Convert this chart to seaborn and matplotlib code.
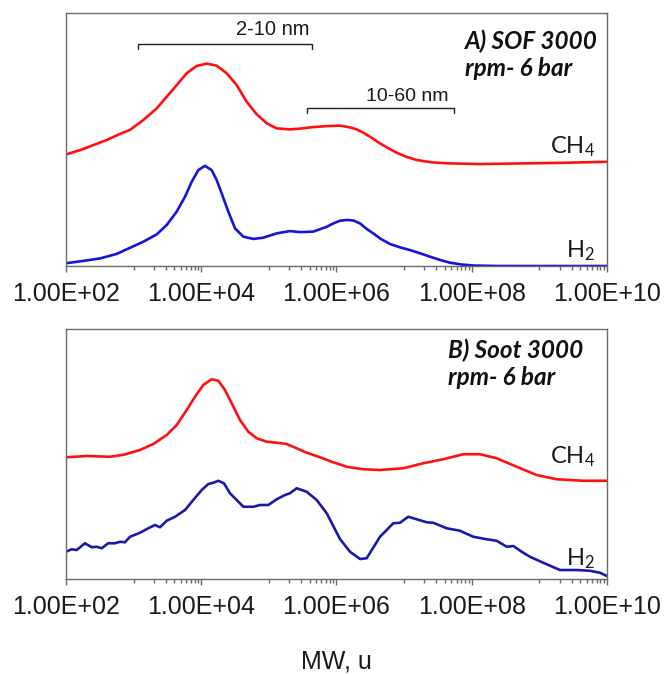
import numpy as np
import pandas as pd
import matplotlib
matplotlib.use("Agg")
import matplotlib.pyplot as plt
import seaborn as sns
from matplotlib.ticker import FixedLocator, NullFormatter, FixedFormatter

# ---------------- data (x given as log10(MW), y as relative intensity) ----------------
a_ch4_logmw = [2.0, 2.207, 2.404, 2.601, 2.798, 2.946, 3.143, 3.341, 3.489, 3.637, 3.785, 3.933,
               4.081, 4.228, 4.376, 4.524, 4.672, 4.82, 4.968, 5.116, 5.312, 5.46, 5.65, 5.855,
               6.052, 6.2, 6.3, 6.396, 6.52, 6.643, 6.77, 6.89, 7.03, 7.186, 7.4, 7.63, 8.122,
               8.861, 9.354, 10.0]
a_ch4_int = [0.441, 0.458, 0.478, 0.498, 0.522, 0.538, 0.577, 0.623, 0.669, 0.715, 0.762, 0.791,
             0.8, 0.792, 0.762, 0.715, 0.649, 0.6, 0.564, 0.544, 0.54, 0.543, 0.549, 0.553,
             0.555, 0.548, 0.54, 0.527, 0.507, 0.485, 0.465, 0.448, 0.432, 0.419, 0.41, 0.406,
             0.403, 0.406, 0.408, 0.412]

a_h2_logmw = [2.0, 2.25, 2.503, 2.75, 2.946, 3.143, 3.341, 3.489, 3.637, 3.76, 3.859, 3.956,
              4.055, 4.154, 4.228, 4.302, 4.4, 4.499, 4.622, 4.77, 4.918, 5.116, 5.312, 5.46,
              5.657, 5.855, 5.95, 6.052, 6.151, 6.25, 6.35, 6.45, 6.544, 6.65, 6.791, 6.95,
              7.087, 7.25, 7.382, 7.53, 7.678, 7.85, 8.023, 8.4, 10.0]
a_h2_int = [0.011, 0.02, 0.03, 0.048, 0.072, 0.096, 0.125, 0.162, 0.215, 0.274, 0.333, 0.379,
            0.396, 0.379, 0.34, 0.287, 0.215, 0.149, 0.116, 0.107, 0.112, 0.129, 0.138, 0.134,
            0.136, 0.155, 0.168, 0.179, 0.182, 0.18, 0.168, 0.146, 0.129, 0.108, 0.087, 0.073,
            0.063, 0.049, 0.037, 0.024, 0.013, 0.006, 0.002, 0.0, 0.0]

b_ch4_logmw = [2.0, 2.306, 2.651, 2.85, 3.094, 3.291, 3.489, 3.637, 3.785, 3.908, 4.03, 4.154,
               4.252, 4.351, 4.45, 4.573, 4.696, 4.82, 4.968, 5.116, 5.263, 5.411, 5.55, 5.756,
               5.93, 6.151, 6.396, 6.643, 6.988, 7.283, 7.579, 7.875, 8.122, 8.369, 8.664,
               8.96, 9.256, 9.65, 10.0]
b_ch4_int = [0.487, 0.492, 0.489, 0.497, 0.516, 0.54, 0.576, 0.616, 0.676, 0.729, 0.776, 0.799,
             0.793, 0.756, 0.703, 0.636, 0.589, 0.563, 0.549, 0.545, 0.54, 0.523, 0.506, 0.487,
             0.469, 0.449, 0.439, 0.436, 0.443, 0.463, 0.479, 0.499, 0.499, 0.483, 0.449,
             0.416, 0.399, 0.393, 0.393]

b_h2_logmw = [2.0, 2.084, 2.158, 2.281, 2.38, 2.454, 2.528, 2.625, 2.725, 2.799, 2.872, 2.946,
              3.094, 3.217, 3.316, 3.39, 3.489, 3.612, 3.76, 3.882, 4.007, 4.104, 4.178, 4.252,
              4.336, 4.425, 4.524, 4.622, 4.77, 4.869, 4.992, 5.116, 5.238, 5.312, 5.411, 5.559,
              5.707, 5.855, 6.052, 6.2, 6.348, 6.446, 6.643, 6.84, 6.939, 7.061, 7.185, 7.333,
              7.431, 7.629, 7.826, 8.023, 8.221, 8.369, 8.517, 8.615, 8.739, 8.861, 9.058, 9.305,
              9.552, 9.749, 9.896, 10.0]
b_h2_int = [0.109, 0.119, 0.116, 0.143, 0.127, 0.129, 0.123, 0.143, 0.143, 0.149, 0.147, 0.169,
            0.185, 0.203, 0.216, 0.207, 0.233, 0.249, 0.276, 0.316, 0.356, 0.38, 0.385, 0.393,
            0.383, 0.343, 0.316, 0.289, 0.289, 0.296, 0.296, 0.319, 0.336, 0.343, 0.363, 0.349,
            0.316, 0.263, 0.16, 0.109, 0.08, 0.083, 0.169, 0.223, 0.225, 0.249, 0.239, 0.227,
            0.225, 0.203, 0.193, 0.169, 0.159, 0.153, 0.129, 0.132, 0.109, 0.089, 0.065, 0.036,
            0.036, 0.033, 0.025, 0.012]

tick_values = [1e2, 1e4, 1e6, 1e8, 1e10]
tick_labels = ["1.00E+02", "1.00E+04", "1.00E+06", "1.00E+08", "1.00E+10"]
series_names = ["CH$_4$", "H$_2$"]
panel_titles = ["A) SOF 3000\nrpm- 6 bar", "B) Soot 3000\nrpm- 6 bar"]
bracket_labels = ["2-10 nm", "10-60 nm"]
bracket_ranges = [(10**3.065, 10**5.64), (10**5.56, 10**7.74)]
x_label = "MW, u"

# ---------------- style ----------------
sns.set_style("white")
plt.rcParams["font.family"] = ["Liberation Sans", "DejaVu Sans"]
plt.rcParams["mathtext.fontset"] = "custom"
plt.rcParams["mathtext.rm"] = "Lato"
plt.rcParams["mathtext.it"] = "Lato:italic"

fig = plt.figure(figsize=(6.66, 6.75), dpi=100)
axA = fig.add_axes([0.0991, 0.6059, 0.8123, 0.3748])
axB = fig.add_axes([0.0991, 0.1422, 0.8123, 0.3704])

def make_df(lx, y):
    return pd.DataFrame({"MW": 10 ** np.asarray(lx), "I": y})

red = "#ff1010"
blueA = "#1515d8"
blueB = "#1a1aa8"
lkw = dict(lw=1.9, sort=False, estimator=None, solid_joinstyle="round", solid_capstyle="round")

sns.lineplot(data=make_df(a_ch4_logmw, a_ch4_int), x="MW", y="I", ax=axA, color=red, **lkw)
sns.lineplot(data=make_df(a_h2_logmw, a_h2_int), x="MW", y="I", ax=axA, color=blueA, **lkw)
sns.lineplot(data=make_df(b_ch4_logmw, b_ch4_int), x="MW", y="I", ax=axB, color=red, **lkw)
sns.lineplot(data=make_df(b_h2_logmw, b_h2_int), x="MW", y="I", ax=axB, color=blueB, **lkw)

minor = [k * 10.0 ** e for e in (3, 5, 7, 9) for k in range(1, 10)]
spine_col = "#6a6a6a"
for ax in (axA, axB):
    ax.set_xscale("log")
    ax.set_xlim(1e2, 1e10)
    ax.set_ylim(0, 1)
    ax.xaxis.set_major_locator(FixedLocator(tick_values))
    ax.xaxis.set_major_formatter(FixedFormatter(tick_labels))
    ax.xaxis.set_minor_locator(FixedLocator(minor))
    ax.xaxis.set_minor_formatter(NullFormatter())
    ax.set_yticks([])
    ax.set_ylabel("")
    ax.set_xlabel("")
    for s in ax.spines.values():
        s.set_color(spine_col)
        s.set_linewidth(1.0)
    ax.tick_params(axis="x", which="major", direction="out", length=4.5, width=1.0,
                   color=spine_col, labelsize=18, labelcolor="#1a1a1a", pad=7, bottom=True)
    ax.tick_params(axis="x", which="minor", direction="out", length=3, width=1.0,
                   color=spine_col, bottom=True)

axB.set_xlabel(x_label, fontsize=18, color="#1a1a1a", labelpad=22)

# series labels
lab_font = dict(family=["Lato", "DejaVu Sans"], fontsize=17, color="#1a1a1a", ha="right", va="center")
axA.text(0.978, 0.472, series_names[0], transform=axA.transAxes, **lab_font)
axA.text(0.978, 0.060, series_names[1], transform=axA.transAxes, **lab_font)
axB.text(0.978, 0.489, series_names[0], transform=axB.transAxes, **lab_font)
axB.text(0.978, 0.080, series_names[1], transform=axB.transAxes, **lab_font)

# panel titles
tfont = dict(family=["Lato", "DejaVu Sans"], fontsize=17.5, fontweight="bold", fontstyle="italic",
             color="#111111", ha="left", va="top", linespacing=1.22)
axA.text(0.737, 0.935, panel_titles[0], transform=axA.transAxes, **tfont)
axB.text(0.706, 0.962, panel_titles[1], transform=axB.transAxes, **tfont)

# brackets
br_y = [0.877, 0.623]
br_drop = 0.018
txt_pos = [(10**5.06, 0.933), (10**7.04, 0.669)]
br_fs = [14.5, 14]
for (x0, x1), yb, lab, (tx, ty), fs in zip(bracket_ranges, br_y, bracket_labels, txt_pos, br_fs):
    axA.plot([x0, x0, x1, x1], [yb - br_drop, yb, yb, yb - br_drop], color="#222222", lw=1.0,
             transform=axA.get_xaxis_transform())
    axA.text(tx, ty, lab, transform=axA.get_xaxis_transform(), fontsize=fs, color="#1a1a1a",
             ha="center", va="center")

fig.savefig("out.png", dpi=100)
